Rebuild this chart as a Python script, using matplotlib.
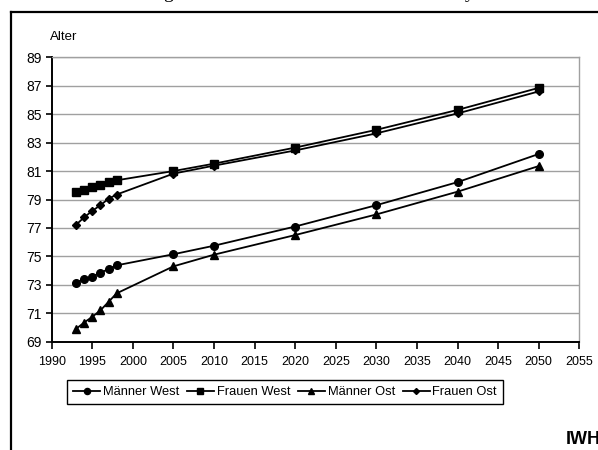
import matplotlib
matplotlib.use("Agg")
import matplotlib.pyplot as plt
from matplotlib.lines import Line2D

plt.rcParams['font.family'] = ['Liberation Sans', 'DejaVu Sans']

years = [1993, 1994, 1995, 1996, 1997, 1998, 2005, 2010, 2020, 2030, 2040, 2050]
maenner_west = [73.15, 73.4, 73.57, 73.85, 74.1, 74.37, 75.15, 75.75, 77.1, 78.6, 80.22, 82.2]
frauen_west = [79.5, 79.7, 79.85, 80.05, 80.25, 80.35, 81.0, 81.52, 82.65, 83.9, 85.3, 86.85]
maenner_ost = [69.9, 70.35, 70.75, 71.2, 71.8, 72.4, 74.3, 75.12, 76.5, 77.95, 79.55, 81.35]
frauen_ost = [77.22, 77.75, 78.2, 78.6, 79.05, 79.35, 80.82, 81.38, 82.45, 83.65, 85.05, 86.6]

series = [
    ("Männer West", maenner_west, "o", 5.5),
    ("Frauen West", frauen_west, "s", 5.2),
    ("Männer Ost", maenner_ost, "^", 6),
    ("Frauen Ost", frauen_ost, "D", 3.8),
]

fig = plt.figure(figsize=(5.98, 4.5), dpi=100)
ax = fig.add_axes([51.7 / 598, 108.3 / 450, 527.6 / 598, 284.4 / 450])

for label, vals, m, ms in series:
    ax.plot(years, vals, color="black", lw=1.3, marker=m, markersize=ms,
            markerfacecolor="black", markeredgecolor="black", label=label, zorder=3)

ax.set_xlim(1990, 2055)
ax.set_ylim(69, 89)
ax.set_xticks(range(1990, 2056, 5))
ax.set_yticks(range(69, 90, 2))
ax.grid(axis="y", color="#a0a0a0", lw=1.0, zorder=0)
ax.set_axisbelow(True)

for side in ("top", "right"):
    ax.spines[side].set_color("#a0a0a0")
    ax.spines[side].set_linewidth(1.0)
for side in ("left", "bottom"):
    ax.spines[side].set_color("black")
    ax.spines[side].set_linewidth(1.4)

ax.tick_params(axis="both", direction="out", length=4, width=1.2, color="black",
               pad=3)
ax.tick_params(axis="y", labelsize=10)
ax.tick_params(axis="x", length=5, pad=5, labelsize=9)

fig.text(50 / 598, 1 - 37 / 450, "Alter", fontsize=9.5, ha="left", va="center")

leg = ax.legend(loc="center", bbox_to_anchor=(285 / 598, 1 - 392 / 450),
                bbox_transform=fig.transFigure, ncol=4, fontsize=9.3,
                frameon=True, fancybox=False, framealpha=1, edgecolor="black",
                handlelength=2.1, handletextpad=0.2, columnspacing=0.6,
                borderpad=0.45, markerscale=0.8)
leg.get_frame().set_linewidth(1.0)

# outer frame of the figure
fig.add_artist(Line2D([11 / 598, 11 / 598], [0, 1 - 12 / 450], color="black",
                      lw=1.6, transform=fig.transFigure))
fig.add_artist(Line2D([11 / 598, 1], [1 - 12 / 450, 1 - 12 / 450], color="black",
                      lw=1.6, transform=fig.transFigure))

fig.text(566 / 598, 1 - 440 / 450, "IWH", fontsize=13, fontweight="bold",
         ha="left", va="center")

# heading line above, cut off by the top edge
fig.text(163 / 598, 1 + 1.5 / 450, "g", fontsize=14, family="Liberation Serif",
         ha="left", va="baseline")
fig.text(465 / 598, 1 + 1.5 / 450, "y", fontsize=14, family="Liberation Serif",
         ha="left", va="baseline")

fig.savefig("out.png", dpi=100)
